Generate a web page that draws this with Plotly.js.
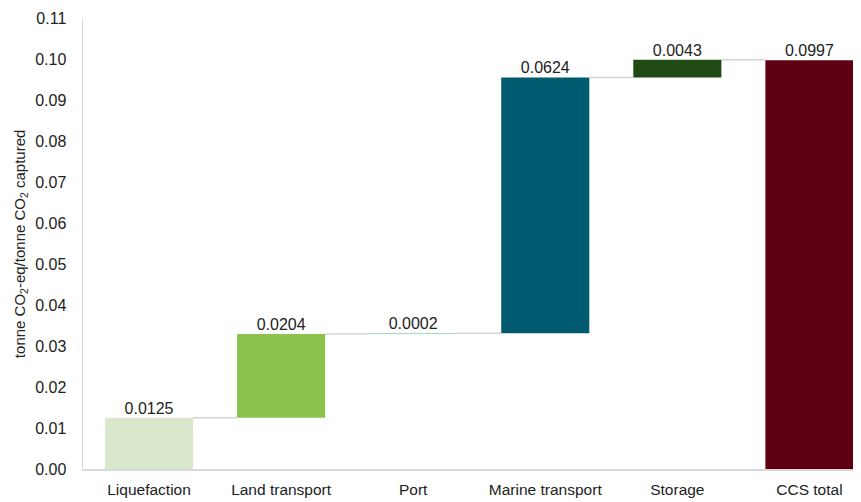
<!DOCTYPE html>
<html>
<head>
<meta charset="utf-8">
<script src="https://cdn.plot.ly/plotly-3.0.1.min.js"></script>
<style>
  html, body { margin: 0; padding: 0; background: #ffffff; }
  #chart { width: 861px; height: 502px; }
</style>
</head>
<body>
<div id="chart"></div>
<script>
// Life-cycle emissions of the CCS chain, step by step
const stages = ["Liquefaction", "Land transport", "Port", "Marine transport", "Storage", "CCS total"];
const stageValues = [0.0125, 0.0204, 0.0002, 0.0624, 0.0043, 0.0997];
const isTotal = [false, false, false, false, false, true];
const stageColors = ["#d9e8cc", "#8bc34c", "#7dd3b0", "#005a70", "#1f4a13", "#5e0011"];
const yTitle = "tonne CO<sub>2</sub>-eq/tonne CO<sub>2</sub> captured";

const barWidth = 0.667;

// Each step sits on top of the running sum; the total starts from zero
const bases = [];
const tops = [];
let running = 0;
stageValues.forEach((v, i) => {
  if (isTotal[i]) {
    bases.push(0);
    tops.push(v);
    running = v;
  } else {
    bases.push(running);
    running += v;
    tops.push(running);
  }
});

// Grey connector segments between neighbouring bars at the running level
const connX = [];
const connY = [];
for (let i = 0; i < stages.length - 1; i++) {
  connX.push(i + barWidth / 2, i + 1 - barWidth / 2, null);
  connY.push(tops[i], tops[i], null);
}

const xIdx = stages.map((_, i) => i);

const bars = {
  type: "bar",
  x: xIdx,
  y: stageValues,
  base: bases,
  width: barWidth,
  marker: { color: stageColors, line: { width: 0 } },
  hoverinfo: "skip",
  showlegend: false
};

const connectors = {
  type: "scatter",
  mode: "lines",
  x: connX,
  y: connY,
  line: { color: "#d4d4d4", width: 1.5 },
  hoverinfo: "skip",
  showlegend: false
};

const labels = {
  type: "scatter",
  mode: "text",
  x: xIdx,
  y: tops,
  text: stageValues.map(v => v.toFixed(4)),
  textposition: "top center",
  textfont: { family: "Liberation Sans, Arial, sans-serif", size: 16, color: "#222222" },
  hoverinfo: "skip",
  showlegend: false,
  cliponaxis: false
};

const layout = {
  width: 861,
  height: 502,
  margin: { l: 83, r: 8, t: 18, b: 33 },
  paper_bgcolor: "#ffffff",
  plot_bgcolor: "#ffffff",
  font: { family: "Liberation Sans, Arial, sans-serif", size: 16, color: "#222222" },
  xaxis: {
    range: [-0.5, 5.33],
    tickmode: "array",
    tickvals: xIdx,
    ticktext: stages,
    showgrid: false,
    zeroline: false,
    showline: true,
    linecolor: "#d9d9d9",
    linewidth: 1.5,
    ticks: "",
    ticklabelstandoff: 6,
    tickfont: { size: 15.5, color: "#222222" }
  },
  yaxis: {
    range: [0, 0.11],
    dtick: 0.01,
    tickformat: ".2f",
    showgrid: false,
    zeroline: false,
    showline: true,
    linecolor: "#d9d9d9",
    linewidth: 1.5,
    ticks: "",
    ticklabelstandoff: 12,
    tickfont: { size: 16, color: "#222222" }
  },
  annotations: [{
    text: yTitle,
    textangle: -90,
    xref: "paper",
    yref: "paper",
    x: -0.081,
    y: 0.5,
    xanchor: "center",
    yanchor: "middle",
    showarrow: false,
    font: { family: "Liberation Sans, Arial, sans-serif", size: 15, color: "#222222" }
  }]
};

Plotly.newPlot("chart", [bars, connectors, labels], layout, { displayModeBar: false, staticPlot: true });
</script>
</body>
</html>
